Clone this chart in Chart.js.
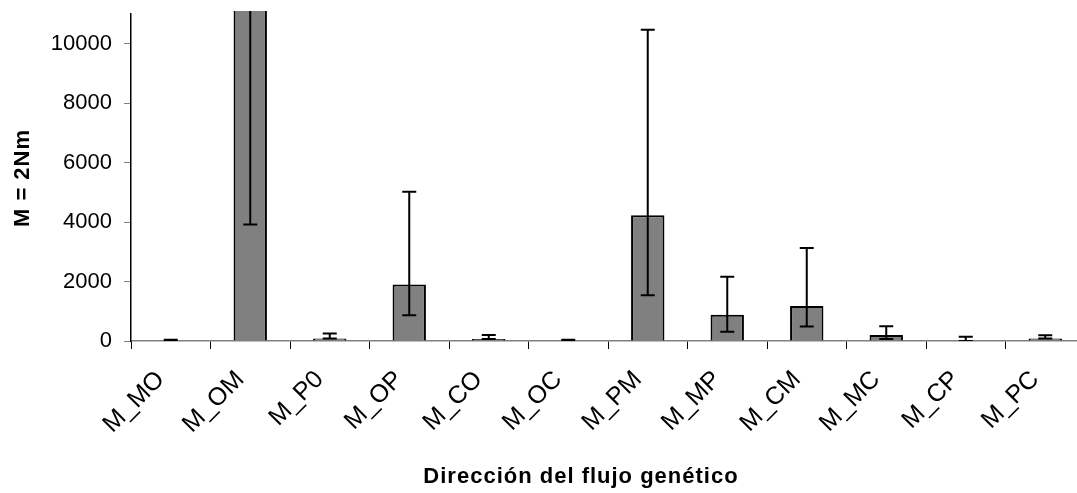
<!DOCTYPE html>
<html>
<head>
<meta charset="utf-8">
<script src="https://cdn.jsdelivr.net/npm/chart.js@4"></script>
<style>
body { margin: 0; overflow: hidden; background: #fff; }
#wrap { width: 1100px; height: 493px; }
</style>
</head>
<body>
<div id="wrap"><canvas id="chart-area"></canvas></div>
<script>
var categories = ['M_MO', 'M_OM', 'M_P0', 'M_OP', 'M_CO', 'M_OC', 'M_PM', 'M_MP', 'M_CM', 'M_MC', 'M_CP', 'M_PC'];
var values = [0, 14000, 80, 1900, 70, 0, 4230, 880, 1180, 200, 0, 80];
var errLow = [0, 3920, 80, 870, 70, 0, 1540, 310, 490, 65, 0, 80];
var errHigh = [40, 16000, 255, 5020, 200, 40, 10470, 2160, 3130, 500, 140, 190];
var yTicks = [0, 2000, 4000, 6000, 8000, 10000];
var yMax = 11000;

var font = '"Liberation Sans", Arial, sans-serif';

// error bars + axis titles
var extras = {
	id: 'extras',
	afterDatasetsDraw: function(chart) {
		var ctx = chart.ctx;
		var y = chart.scales.y;
		var area = chart.chartArea;
		var bars = chart.getDatasetMeta(0).data;
		ctx.save();
		ctx.beginPath();
		ctx.rect(area.left, area.top - 3, area.right - area.left, area.bottom - area.top + 3);
		ctx.clip();
		ctx.strokeStyle = '#000';
		ctx.lineWidth = 2;
		bars.forEach(function(bar, i) {
			var x = bar.x;
			var hi = y.getPixelForValue(errHigh[i]);
			var lo = y.getPixelForValue(errLow[i]);
			ctx.beginPath();
			ctx.moveTo(x, lo);
			ctx.lineTo(x, hi);
			ctx.moveTo(x - 7, hi);
			ctx.lineTo(x + 7, hi);
			ctx.moveTo(x - 7, lo);
			ctx.lineTo(x + 7, lo);
			ctx.stroke();
		});
		ctx.restore();
	},
	afterDraw: function(chart) {
		var ctx = chart.ctx;
		ctx.save();
		ctx.fillStyle = '#000';
		ctx.font = 'bold 22px ' + font;
		ctx.letterSpacing = '1px';
		ctx.textAlign = 'center';
		ctx.textBaseline = 'middle';
		ctx.fillText('Dirección del flujo genético', 581, 477);
		ctx.translate(23, 178);
		ctx.rotate(-Math.PI / 2);
		ctx.fillText('M = 2Nm', 0, 0);
		ctx.restore();
	}
};

var config = {
	type: 'bar',
	data: {
		labels: categories,
		datasets: [{
			data: values,
			backgroundColor: '#808080',
			borderColor: '#000',
			borderWidth: 2,
			barPercentage: 0.42,
			categoryPercentage: 1,
			clip: {left: 0, top: 3, right: 0, bottom: 0}
		}]
	},
	options: {
		responsive: true,
		maintainAspectRatio: false,
		animation: false,
		layout: {
			padding: {top: 14, right: 15, left: 0, bottom: 0}
		},
		plugins: {
			legend: {display: false},
			tooltip: {enabled: false}
		},
		scales: {
			x: {
				grid: {
					offset: true,
					drawOnChartArea: false,
					drawTicks: true,
					tickLength: 8,
					color: '#000',
					lineWidth: 1
				},
				border: {color: '#808080', width: 1.5},
				ticks: {
					color: '#000',
					font: {family: font, size: 25},
					minRotation: 45,
					maxRotation: 45,
					padding: 16,
					labelOffset: -10,
					autoSkip: false
				},
				afterFit: function(scale) {
					scale.height = 152;
					scale.paddingLeft = 0;
					scale.paddingRight = 0;
				}
			},
			y: {
				min: 0,
				max: yMax,
				afterBuildTicks: function(scale) {
					scale.ticks = yTicks.map(function(v) { return {value: v}; });
				},
				grid: {
					drawOnChartArea: false,
					drawTicks: true,
					tickLength: 7,
					color: '#808080'
				},
				border: {color: '#000', width: 1.5},
				ticks: {
					color: '#000',
					font: {family: font, size: 22},
					padding: 12,
					autoSkip: false,
					callback: function(v) { return String(v); }
				},
				afterFit: function(scale) {
					scale.width = 131;
					scale.paddingTop = 0;
					scale.paddingBottom = 0;
				}
			}
		}
	},
	plugins: [extras]
};

window.onload = function() {
	var ctx = document.getElementById('chart-area').getContext('2d');
	window.myBar = new Chart(ctx, config);
};
</script>
</body>
</html>
